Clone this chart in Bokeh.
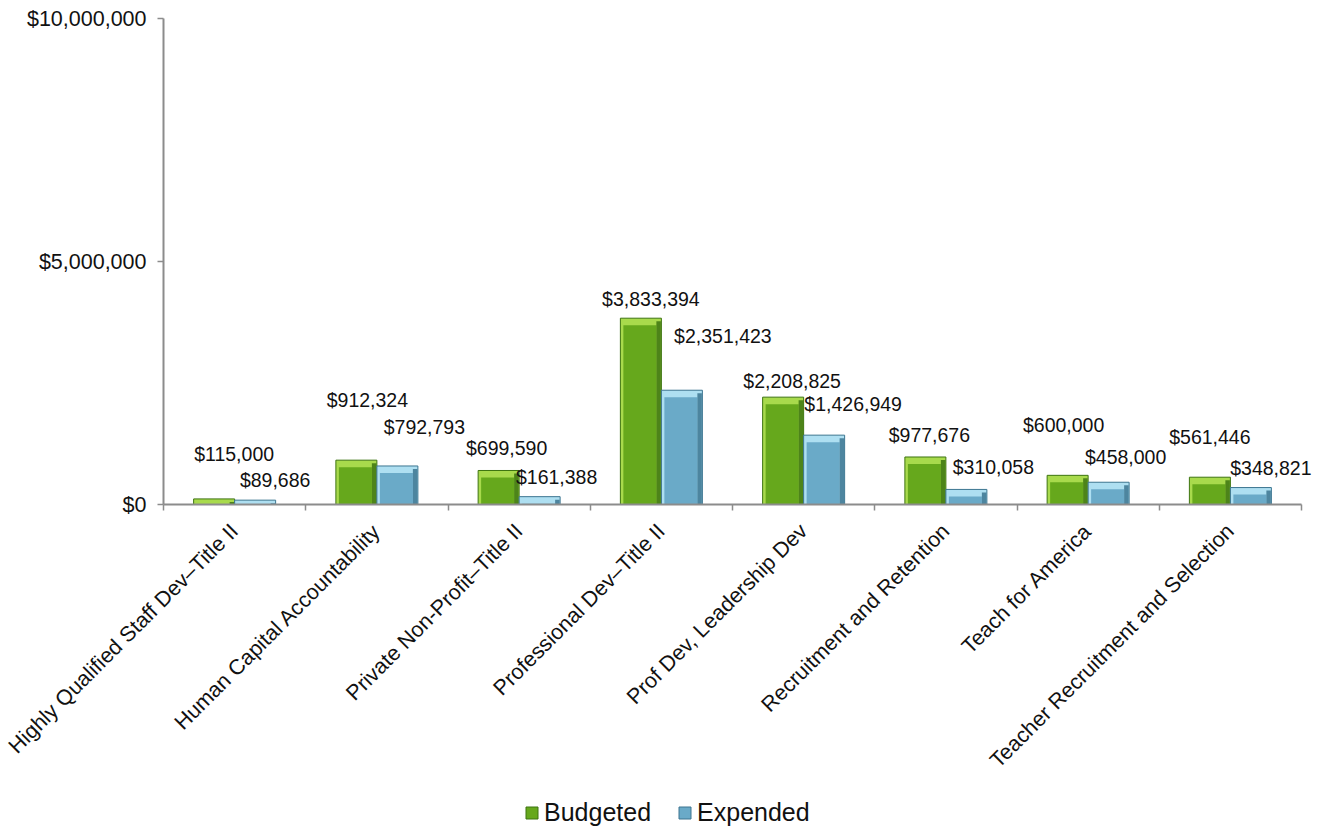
import numpy as np
from bokeh.plotting import figure
from bokeh.layouts import column
from bokeh.models import (Range1d, FixedTicker, NumeralTickFormatter, Legend,
                          LegendItem, ColumnDataSource)
from bokeh.core.properties import value
from bokeh.embed import file_html
from bokeh.resources import INLINE

# ---------------- data ----------------
categories = [
    "Highly Qualified Staff Dev\u2013Title II",
    "Human Capital Accountability",
    "Private Non-Profit\u2013Title II",
    "Professional Dev\u2013Title II",
    "Prof Dev, Leadership Dev",
    "Recruitment and Retention",
    "Teach for America",
    "Teacher Recruitment and Selection",
]
budgeted = [115000, 912324, 699590, 3833394, 2208825, 977676, 600000, 561446]
expended = [89686, 792793, 161388, 2351423, 1426949, 310058, 458000, 348821]
series_names = ["Budgeted", "Expended"]
y_ticks = [0, 5000000, 10000000]

# ---------------- style ----------------
FONT = "Liberation Sans"
W = 1336
H = 790            # main chart
LH = 38            # legend strip
BL, BR, BT = 163, 0, 18
BB = H - BT - 486
AXIS_W = 1138      # pixel length of the category axis
frame_w = W - BL - BR
frame_h = H - BT - BB
n = len(categories)
Y_MAX = 10000000
X_END = n * frame_w / AXIS_W
xpx = X_END / frame_w      # data units per pixel (x)
ypx = Y_MAX / frame_h      # data units per pixel (y)

bar_w = 41 * xpx
colors = {
    "Budgeted": dict(light="#A8DA4C", face="#66A81C", dark="#3D7410"),
    "Expended": dict(light="#AEDFF1", face="#6AAAC8", dark="#3C7590"),
}
# label pixel offsets (screen), relative to bar top-centre
label_dx = {
    "Budgeted": [20, 11, 8, 10, 9, 4, -4, 0],
    "Expended": [20, 27, 17, 41, 29, 27, 17, 20],
}
label_dy = {
    "Budgeted": [-45, -60, -22, -19, -16, -22, -50, -40],
    "Expended": [-20, -39, -20, -54, -31, -22, -25, -20],
}

p = figure(width=W, height=H, output_backend="svg", toolbar_location=None,
           x_range=Range1d(0, X_END), y_range=Range1d(0, Y_MAX),
           min_border_left=BL, min_border_right=BR, min_border_top=BT,
           min_border_bottom=BB)
p.outline_line_color = None
p.xgrid.visible = False
p.ygrid.visible = False
p.background_fill_color = "white"
p.border_fill_color = "white"

centers = np.arange(n) + 0.5
for k, (name, vals) in enumerate(zip(series_names, [budgeted, expended])):
    c = colors[name]
    vals = np.array(vals, dtype=float)
    xc = centers + (-0.5 if k == 0 else 0.5) * bar_w
    left = xc - bar_w / 2
    right = xc + bar_w / 2
    p.quad(left=left, right=right, bottom=0, top=vals,
           fill_color=c["light"], line_color=c["dark"], line_width=1)
    face_top = np.maximum(vals - 7 * ypx, 0)
    p.quad(left=left + 3 * xpx, right=right - 5 * xpx, bottom=0, top=face_top,
           fill_color=c["face"], line_color=None)
    strip_top = np.maximum(vals - 3 * ypx, 0)
    p.quad(left=right - 5 * xpx, right=right - 0.5 * xpx, bottom=0, top=strip_top,
           fill_color=c["dark"], line_color=None, fill_alpha=0.85)

    src = ColumnDataSource(dict(
        x=xc, y=vals, text=[f"${int(v):,}" for v in vals],
        dx=label_dx[name], dy=label_dy[name]))
    p.text(x="x", y="y", text="text", x_offset="dx", y_offset="dy", source=src,
           text_align="center", text_baseline="middle",
           text_font=value(FONT), text_font_size="19.5px", text_color="#111111")

# y axis
ya = p.yaxis[0]
ya.ticker = FixedTicker(ticks=y_ticks, minor_ticks=[])
ya.formatter = NumeralTickFormatter(format="$0,0")
ya.axis_line_color = "#8C8C8C"
ya.axis_line_width = 2
ya.major_tick_line_color = "#8C8C8C"
ya.major_tick_line_width = 1.5
ya.major_tick_in = 0
ya.major_tick_out = 6
ya.minor_tick_line_color = None
ya.major_label_standoff = 11
ya.major_label_text_font = FONT
ya.major_label_text_font_size = "21.5px"
ya.major_label_text_color = "#111111"

# x axis: labels at centres, ticks at boundaries (minor)
xa = p.xaxis[0]
xa.bounds = (0, n)
xa.ticker = FixedTicker(ticks=list(centers), minor_ticks=list(range(n + 1)))
xa.major_label_overrides = {float(c): cat for c, cat in zip(centers, categories)}
xa.major_label_orientation = np.pi / 4
xa.axis_line_color = "#8C8C8C"
xa.axis_line_width = 2
xa.major_tick_line_color = None
xa.minor_tick_line_color = "#8C8C8C"
xa.minor_tick_line_width = 1.5
xa.minor_tick_in = 0
xa.minor_tick_out = 6
xa.major_label_standoff = 17
xa.major_label_text_font = FONT
xa.major_label_text_font_size = "21.5px"
xa.major_label_text_color = "#111111"

# ---------------- legend strip ----------------
lf = figure(width=W, height=LH, output_backend="svg", toolbar_location=None,
            x_range=Range1d(0, 1), y_range=Range1d(0, 1),
            min_border=0, min_border_left=0, min_border_right=0,
            min_border_top=0, min_border_bottom=0)
lf.outline_line_color = None
lf.axis.visible = False
lf.xgrid.visible = False
lf.ygrid.visible = False
items = []
for name in series_names:
    c = colors[name]
    r = lf.quad(left=[5], right=[6], bottom=[5], top=[6],
                fill_color=c["face"], line_color=c["dark"], line_width=1)
    items.append(LegendItem(label=name, renderers=[r]))
legend = Legend(items=items, orientation="horizontal",
                location=(361, 1), padding=0, margin=0, spacing=26,
                glyph_width=15, glyph_height=15, label_standoff=5,
                label_text_font=FONT, label_text_font_size="25px",
                label_text_color="#111111", border_line_color=None,
                background_fill_alpha=0)
lf.add_layout(legend, "center")

open("out.html", "w").write(file_html(column(p, lf), INLINE))
